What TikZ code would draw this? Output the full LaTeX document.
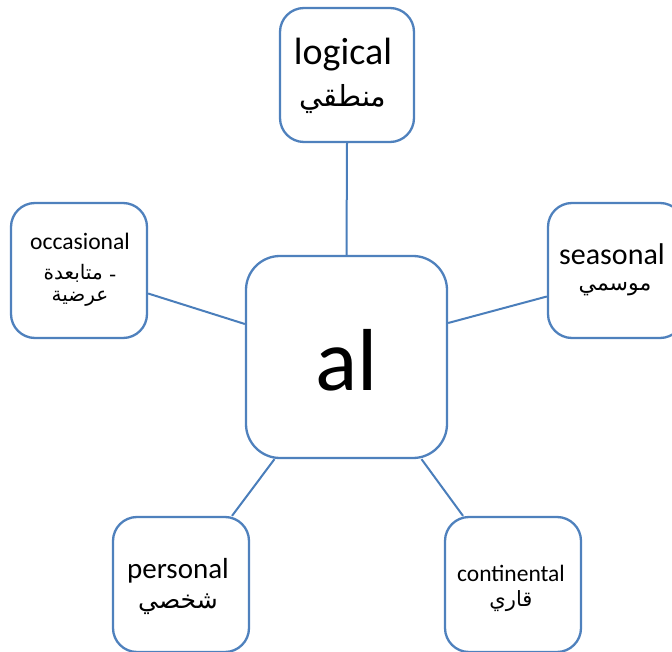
\documentclass[tikz,border=0pt]{standalone}
\usepackage{fontspec}
\setmainfont{Carlito}
\newfontfamily\arabicfont[Script=Arabic]{DejaVu Sans}
\TeXXeTstate=1
\usetikzlibrary{calc}
\definecolor{boxblue}{RGB}{79,129,189}
\definecolor{lineblue}{RGB}{74,126,187}
\tikzset{
  box/.style={draw=boxblue, line width=2.3pt, rounded corners=24pt, fill=white, inner sep=0pt},
  link/.style={draw=lineblue, line width=2pt},
  lbl/.style={inner sep=0pt, anchor=center, text=black},
}
\begin{document}
\begin{tikzpicture}[x=1pt,y=-1pt]
\useasboundingbox (0,0) rectangle (672,652);
\clip (0,0) rectangle (672,652);
% boxes
\node[box, minimum width=134pt, minimum height=134pt] (logical) at (347,75) {};
\node[box, minimum width=136pt, minimum height=135pt] (occ) at (79,270.5) {};
\node[box, minimum width=136pt, minimum height=135pt] (seas) at (616,270.5) {};
\node[box, minimum width=136pt, minimum height=135pt] (pers) at (181,584.5) {};
\node[box, minimum width=136pt, minimum height=135pt] (cont) at (513,584.5) {};
\node[box, rounded corners=34pt, minimum width=201pt, minimum height=202pt] (al) at (346.5,357) {};
% connectors
\draw[link] (logical.south) -- (al.north);
\draw[link] ($(occ.east)+(0,23)$) -- ($(al.west)+(0,-33)$);
\draw[link] ($(seas.west)+(0,26)$) -- ($(al.east)+(0,-34)$);
\draw[link] ($(pers.north)+(51,0)$) -- ($(al.south)+(-72,0)$);
\draw[link] ($(cont.north)+(-50,0)$) -- ($(al.south)+(75,0)$);
% labels
\node[lbl, font=\fontsize{38}{40}\selectfont] (logicalEn) at (343,55) {logical};
\node[lbl, font=\fontsize{29}{30}\arabicfont] (logicalAr) at (343,99) {\beginR منطقي\endR};
\node[lbl, font=\fontsize{23.6}{26}\selectfont] (occEn) at (80,241) {occasional};
\node[lbl, font=\fontsize{20}{22}\arabicfont] (occAr1) at (80,273) {\beginR متابعدة\endR{} \raisebox{-2.5pt}{-}};
\node[lbl, font=\fontsize{20}{22}\arabicfont] (occAr2) at (80,299) {\beginR عرضية\endR};
\node[lbl, font=\fontsize{30}{32}\selectfont] (seasEn) at (612,254) {seasonal};
\node[lbl, font=\fontsize{22}{24}\arabicfont] (seasAr) at (615,289) {\beginR موسمي\endR};
\node[lbl, font=\fontsize{88}{90}\selectfont] (alTxt) at (347,360) {al};
\node[lbl, font=\fontsize{29}{31}\selectfont] (persEn) at (178,571) {personal};
\node[lbl, font=\fontsize{25}{26}\arabicfont] (persAr) at (178,604) {\beginR شخصي\endR};
\node[lbl, font=\fontsize{23.5}{26}\selectfont] (contEn) at (511,573) {continental};
\node[lbl, font=\fontsize{21}{22}\arabicfont] (contAr) at (511,601) {\beginR قاري\endR};
\end{tikzpicture}
\end{document}
